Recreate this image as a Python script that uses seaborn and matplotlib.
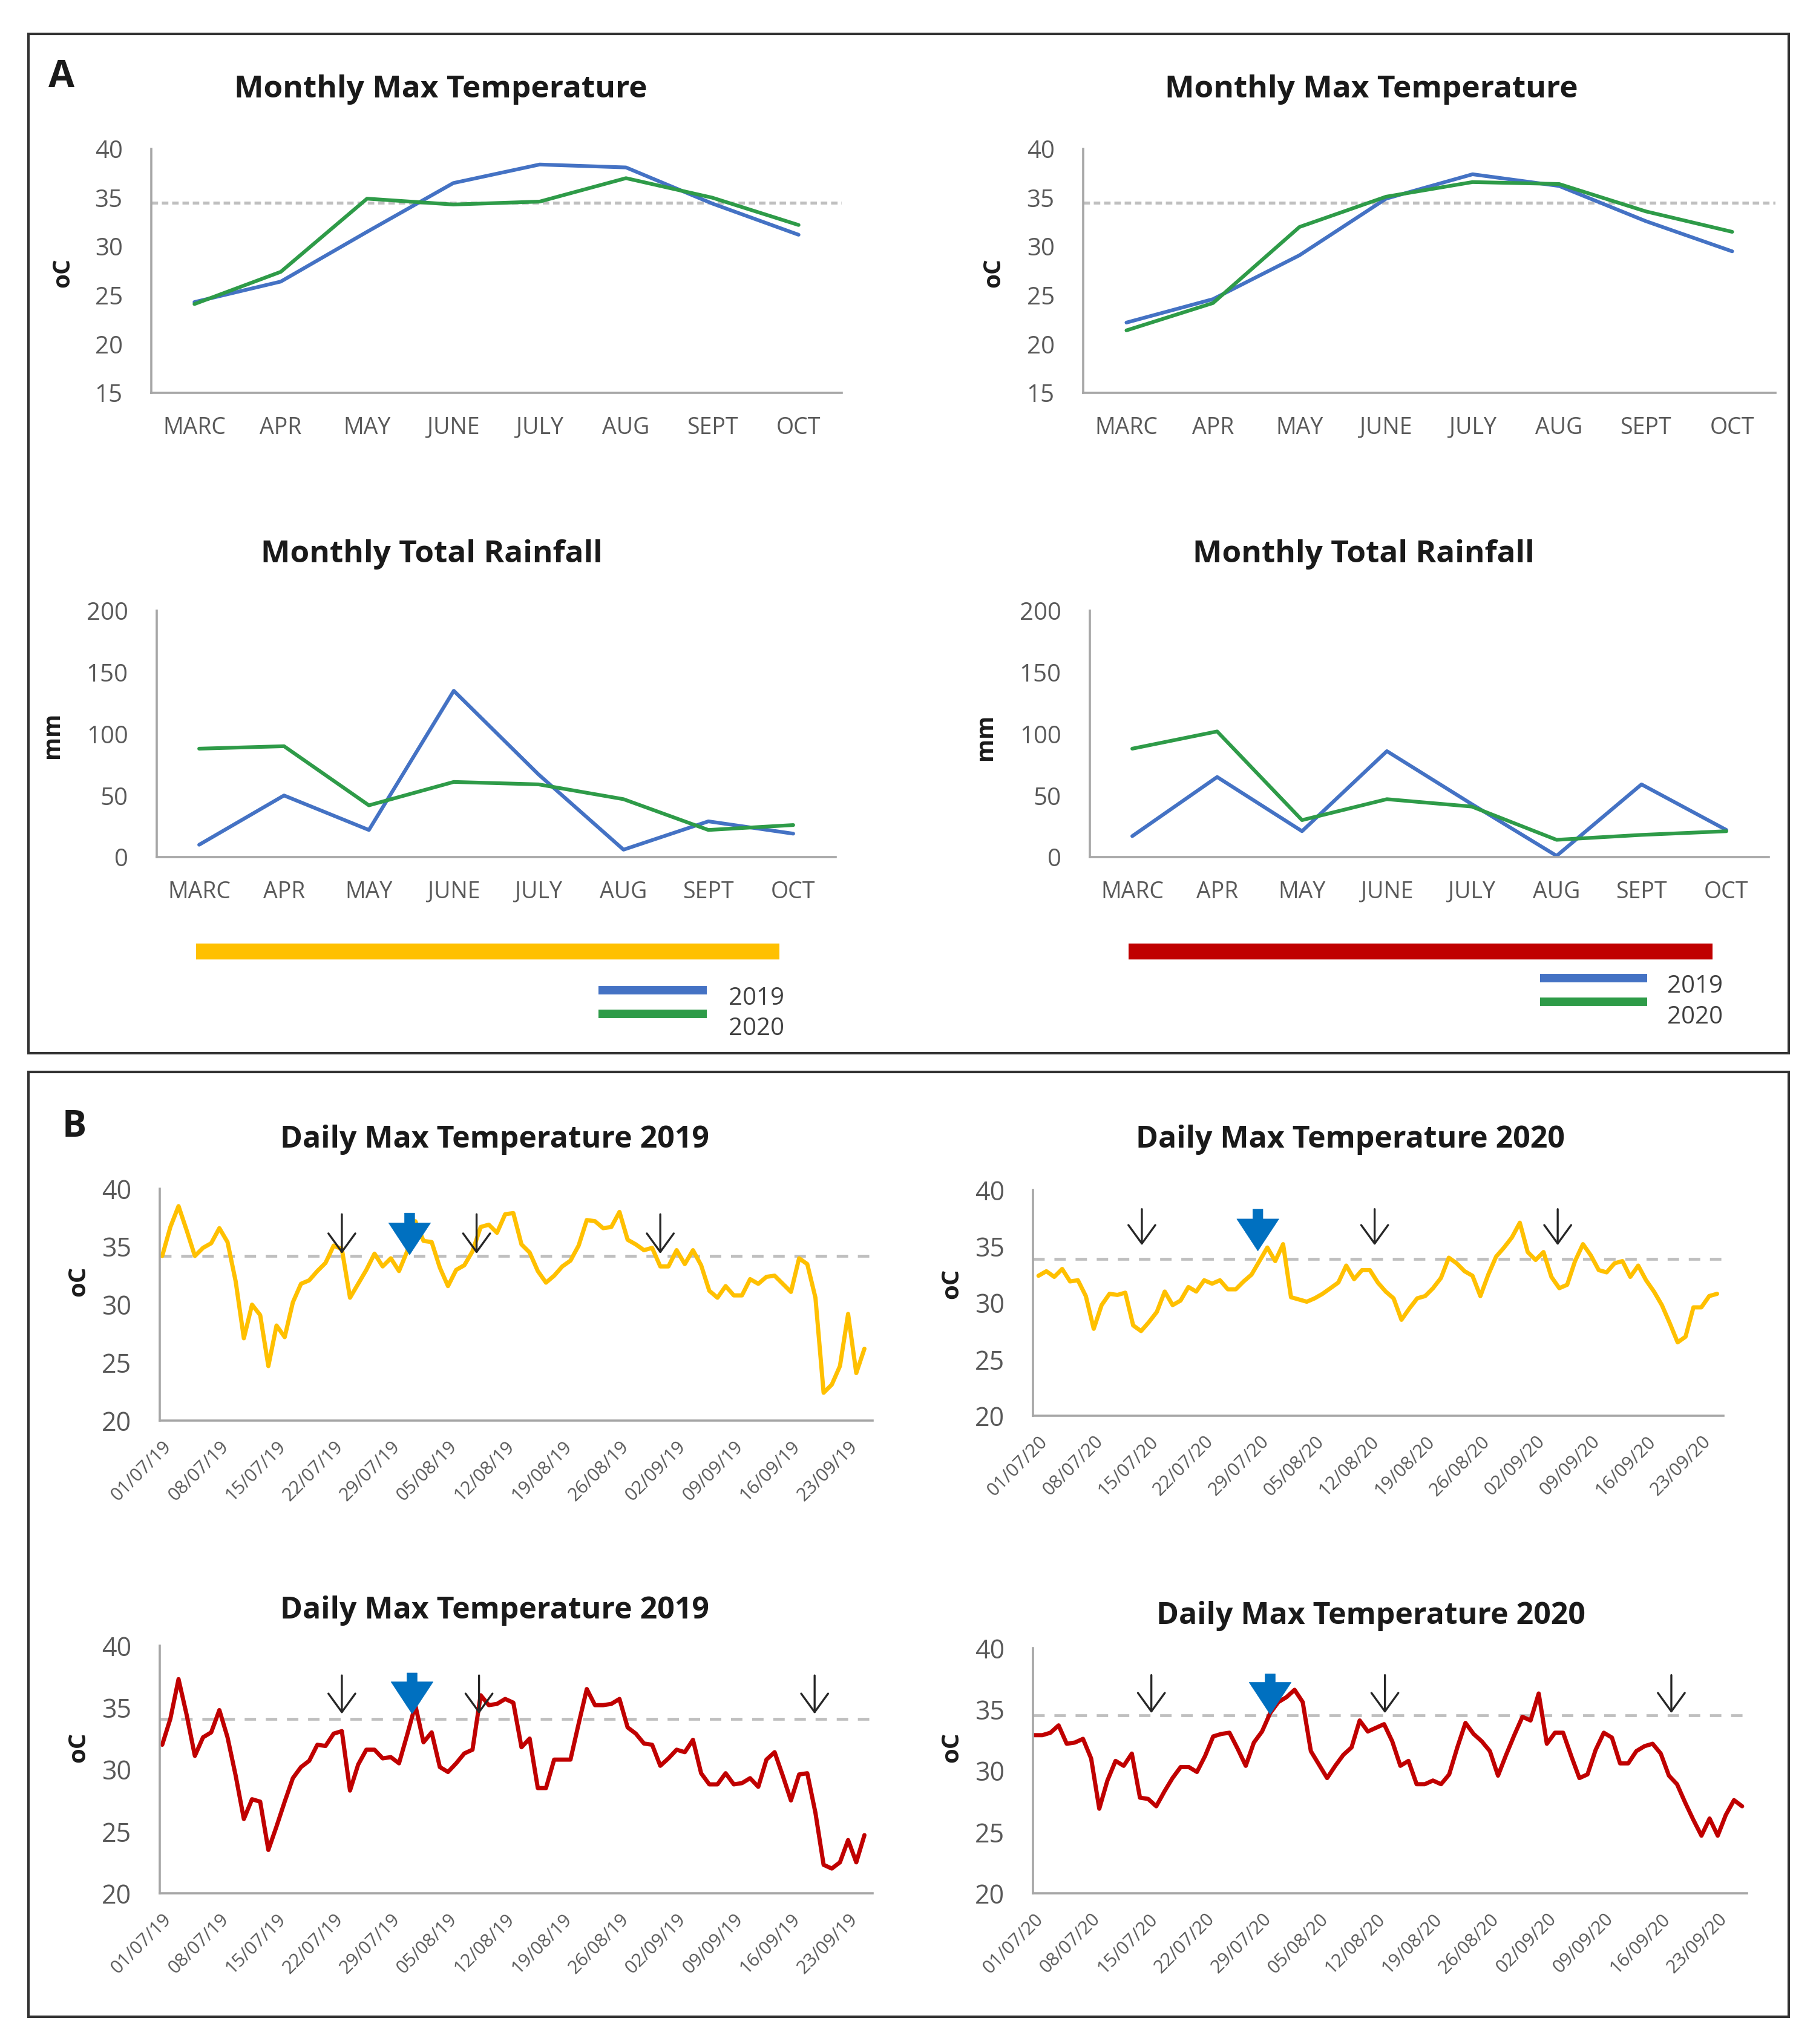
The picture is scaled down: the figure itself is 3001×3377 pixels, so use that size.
import numpy as np
import pandas as pd
import matplotlib
matplotlib.use("Agg")
import matplotlib.pyplot as plt
import matplotlib.dates as mdates
from matplotlib.lines import Line2D
from matplotlib.patches import Rectangle
import seaborn as sns

sns.set_theme(style="white")
plt.rcParams['font.family'] = ['Open Sans', 'DejaVu Sans']

# ---------------- data ----------------
months = ["MARC", "APR", "MAY", "JUNE", "JULY", "AUG", "SEPT", "OCT"]
years = ["2019", "2020"]

temp_left_2019 = [24.3, 26.4, 31.5, 36.5, 38.4, 38.1, 34.4, 31.2]
temp_left_2020 = [24.1, 27.4, 34.9, 34.3, 34.6, 37.0, 35.0, 32.2]
temp_right_2019 = [22.2, 24.6, 29.1, 34.9, 37.4, 36.2, 32.6, 29.5]
temp_right_2020 = [21.4, 24.2, 32.0, 35.1, 36.6, 36.4, 33.6, 31.5]

rain_left_2019 = [10, 50, 22, 135, 67, 6, 29, 19]
rain_left_2020 = [88, 90, 42, 61, 59, 47, 22, 26]
rain_right_2019 = [17, 65, 21, 86, 43, 1, 59, 22]
rain_right_2020 = [88, 102, 30, 47, 41, 14, 18, 21]

monthly_threshold_left = 34.5
monthly_threshold_right = 34.5

daily_yellow_2019 = [
    34.2, 36.7, 38.5, 36.4, 34.2, 34.9, 35.3, 36.6, 35.4, 32.0,
    27.1, 30.0, 29.1, 24.7, 28.2, 27.2, 30.2, 31.8, 32.1, 32.9,
    33.6, 35.1, 34.8, 30.6, 31.8, 33.0, 34.4, 33.3, 34.0, 32.9,
    34.6, 37.2, 35.5, 35.4, 33.2, 31.6, 33.0, 33.4, 34.6, 36.7,
    36.9, 36.2, 37.8, 37.9, 35.2, 34.5, 32.9, 31.9, 32.5, 33.3,
    33.8, 35.1, 37.3, 37.2, 36.6, 36.7, 38.0, 35.6, 35.2, 34.7,
    34.9, 33.3, 33.3, 34.7, 33.5, 34.7, 33.4, 31.2, 30.6, 31.6,
    30.8, 30.8, 32.2, 31.8, 32.4, 32.5, 31.8, 31.1, 34.0, 33.5,
    30.6, 22.4, 23.1, 24.7, 29.2, 24.1, 26.2]

daily_yellow_2020 = [
    32.4, 32.8, 32.3, 33.0, 31.9, 32.0, 30.6, 27.7, 29.8, 30.8,
    30.7, 30.9, 28.0, 27.5, 28.3, 29.2, 31.0, 29.8, 30.2, 31.4,
    31.0, 32.0, 31.7, 32.0, 31.2, 31.2, 31.9, 32.5, 33.7, 34.9,
    33.7, 35.2, 30.5, 30.3, 30.1, 30.4, 30.8, 31.3, 31.8, 33.3,
    32.1, 32.9, 32.9, 31.8, 31.0, 30.4, 28.5, 29.5, 30.4, 30.6,
    31.3, 32.2, 34.0, 33.5, 32.8, 32.4, 30.6, 32.5, 34.1, 34.9,
    35.8, 37.1, 34.5, 33.8, 34.5, 32.3, 31.3, 31.6, 33.7, 35.2,
    34.2, 32.9, 32.7, 33.5, 33.7, 32.3, 33.3, 32.0, 31.0, 29.8,
    28.2, 26.5, 27.0, 29.6, 29.6, 30.6, 30.8]

daily_red_2019 = [
    32.0, 34.1, 37.3, 34.4, 31.1, 32.6, 33.0, 34.8, 32.6, 29.5,
    26.0, 27.6, 27.4, 23.5, 25.4, 27.4, 29.3, 30.2, 30.7, 32.0,
    31.9, 32.9, 33.1, 28.3, 30.4, 31.6, 31.6, 30.9, 31.0, 30.5,
    32.8, 35.2, 32.2, 33.0, 30.2, 29.8, 30.5, 31.3, 31.6, 36.0,
    35.2, 35.3, 35.7, 35.4, 31.8, 32.5, 28.5, 28.5, 30.8, 30.8,
    30.8, 33.7, 36.5, 35.2, 35.2, 35.3, 35.7, 33.4, 32.9, 32.1,
    32.0, 30.3, 30.9, 31.6, 31.4, 32.4, 29.7, 28.8, 28.8, 29.7,
    28.8, 28.9, 29.3, 28.6, 30.8, 31.4, 29.5, 27.5, 29.6, 29.7,
    26.5, 22.3, 22.0, 22.5, 24.3, 22.5, 24.7]

daily_red_2020 = [
    32.9, 32.9, 33.1, 33.7, 32.2, 32.3, 32.6, 31.0, 26.9, 29.2,
    30.8, 30.4, 31.4, 27.8, 27.7, 27.1, 28.3, 29.4, 30.3, 30.3,
    29.9, 31.2, 32.8, 33.0, 33.1, 31.8, 30.4, 32.3, 33.2, 34.7,
    35.6, 36.0, 36.6, 35.6, 31.6, 30.5, 29.4, 30.4, 31.3, 31.9,
    34.1, 33.2, 33.5, 33.8, 32.4, 30.4, 30.8, 28.9, 28.9, 29.2,
    28.9, 29.7, 31.9, 33.9, 33.0, 32.4, 31.6, 29.6, 31.3, 32.9,
    34.4, 34.1, 36.3, 32.2, 33.1, 33.1, 31.2, 29.4, 29.7, 31.7,
    33.1, 32.7, 30.6, 30.6, 31.6, 32.0, 32.2, 31.4, 29.6, 28.9,
    27.4, 26.0, 24.7, 26.1, 24.7, 26.4, 27.6, 27.1]

# thresholds and arrow positions (days after 1 July)
thr_yellow_2019, thr_yellow_2020 = 34.2, 33.9
thr_red_2019, thr_red_2020 = 34.1, 34.5
black_arrows_yellow_2019, blue_arrow_yellow_2019 = [22.0, 38.5, 61.0], 30.3
black_arrows_yellow_2020, blue_arrow_yellow_2020 = [13.1, 42.6, 65.8], 27.8
black_arrows_red_2019, blue_arrow_red_2019 = [22.0, 38.8, 79.9], 30.6
black_arrows_red_2020, blue_arrow_red_2020 = [14.4, 43.1, 78.3], 29.0

# ---------------- styles ----------------
BLUE = "#4472C4"
GREEN = "#2E9B48"
YELLOW = "#FFC000"
RED = "#C00000"
ARROW_BLUE = "#0070C0"
GRID = "#A6A6A6"
TICK = "#595959"

W, H = 3001, 3377
fig = plt.figure(figsize=(W / 100, H / 100), dpi=100)


def frac_rect(x0, x1, y0, y1):
    return [x0 / W, 1 - y1 / H, (x1 - x0) / W, (y1 - y0) / H]


def fx(x):
    return x / W


def fy(y):
    return 1 - y / H


def style_axes(ax, xpad, ypad, xsize, ysize):
    for s in ["top", "right"]:
        ax.spines[s].set_visible(False)
    for s in ["left", "bottom"]:
        ax.spines[s].set_color(GRID)
        ax.spines[s].set_linewidth(2.6)
    ax.tick_params(axis="both", length=0, labelcolor=TICK)
    ax.tick_params(axis="x", pad=xpad, labelsize=xsize)
    ax.tick_params(axis="y", pad=ypad, labelsize=ysize)
    ax.set_xlabel("")
    ax.set_ylabel("")
    ax.grid(False)


def monthly(rect, v19, v20, ylim, yticks, thresh):
    ax = fig.add_axes(frac_rect(*rect))
    df = pd.DataFrame({"month": months * 2,
                       "value": list(v19) + list(v20),
                       "year": [years[0]] * 8 + [years[1]] * 8})
    sns.lineplot(data=df, x="month", y="value", hue="year",
                 palette={years[0]: BLUE, years[1]: GREEN},
                 linewidth=4.4, legend=False, sort=False, ax=ax)
    if thresh is not None:
        ax.axhline(thresh, color="#BFBFBF", lw=3.5, dashes=(2.2, 1.3), zorder=0.5)
    ax.set_xlim(-0.5, 7.5)
    ax.set_ylim(*ylim)
    ax.set_yticks(yticks)
    style_axes(ax, 28, 34, 27, 29)
    return ax


def daily(rect, vals, start, color, thresh, xlim_days, blacks, blue,
          btop, btip, utop, utip):
    ax = fig.add_axes(frac_rect(*rect))
    dates = pd.date_range(start, periods=len(vals), freq="D")
    df = pd.DataFrame({"date": dates, "tmax": vals})
    sns.lineplot(data=df, x="date", y="tmax", color=color, linewidth=5.0, ax=ax)
    ax.axhline(thresh, color="#BFBFBF", lw=3.4, dashes=(4.0, 3.4), zorder=0.5)
    d0 = pd.Timestamp(start)
    ax.set_xlim(mdates.date2num(d0 + pd.Timedelta(days=xlim_days[0])),
                mdates.date2num(d0 + pd.Timedelta(days=xlim_days[1])))
    ax.set_ylim(20, 40)
    ax.set_yticks([20, 25, 30, 35, 40])
    ticks = pd.date_range(start, periods=13, freq="7D")
    ax.set_xticks(mdates.date2num(ticks.to_pydatetime()))
    ax.xaxis.set_major_formatter(mdates.DateFormatter("%d/%m/%y"))
    style_axes(ax, 20, 34, 22, 31)
    for lab in ax.get_xticklabels():
        lab.set_rotation(45)
        lab.set_ha("right")
        lab.set_va("top")
        lab.set_rotation_mode("anchor")
    for d in blacks:
        x = mdates.date2num(d0 + pd.Timedelta(days=d))
        ax.annotate("", xy=(x, btip), xytext=(x, btop),
                    arrowprops=dict(arrowstyle="->,head_length=1.1,head_width=0.8",
                                    color="#262626", lw=2.4, mutation_scale=20,
                                    shrinkA=0, shrinkB=0), zorder=5)
    x = mdates.date2num(d0 + pd.Timedelta(days=blue))
    ax.annotate("", xy=(x, utip), xytext=(x, utop),
                arrowprops=dict(arrowstyle="simple,head_length=1.9,head_width=2.5,tail_width=0.6",
                                fc=ARROW_BLUE, ec=ARROW_BLUE, lw=0.5, mutation_scale=20,
                                shrinkA=0, shrinkB=0), zorder=6)
    return ax


# ---------------- panel A ----------------
monthly((250, 1391, 246, 649), temp_left_2019, temp_left_2020, (15, 40),
        [15, 20, 25, 30, 35, 40], monthly_threshold_left)
monthly((1790, 2934, 246, 649), temp_right_2019, temp_right_2020, (15, 40),
        [15, 20, 25, 30, 35, 40], monthly_threshold_right)
monthly((259, 1381, 1009, 1416), rain_left_2019, rain_left_2020, (0, 200),
        [0, 50, 100, 150, 200], None)
monthly((1801, 2923, 1009, 1416), rain_right_2019, rain_right_2020, (0, 200),
        [0, 50, 100, 150, 200], None)

TITLE_C = "#1A1A1A"
for (x, y, s) in [(728, 148, "Monthly Max Temperature"),
                  (2266, 148, "Monthly Max Temperature"),
                  (713, 916, "Monthly Total Rainfall"),
                  (2253, 916, "Monthly Total Rainfall")]:
    fig.text(fx(x), fy(y), s, ha="center", va="center", fontsize=37,
             fontweight="bold", color=TITLE_C)

for (x, y, s) in [(104, 451, "oC"), (1642, 451, "oC"),
                  (87, 1215, "mm"), (1629, 1218, "mm")]:
    fig.text(fx(x), fy(y), s, ha="center", va="center", rotation=90,
             fontsize=28, fontweight="bold", color="#1A1A1A")

# period bars
fig.add_artist(Line2D([fx(324), fx(1288)], [fy(1572), fy(1572)], color=YELLOW,
                      lw=19, solid_capstyle="butt"))
fig.add_artist(Line2D([fx(1865), fx(2830)], [fy(1572), fy(1572)], color=RED,
                      lw=19, solid_capstyle="butt"))

# legends
for (x0, x1, yb, yg, tx, ty1, ty2) in [(989, 1168, 1636, 1675, 1250, 1650, 1700),
                                       (2545, 2722, 1616, 1655, 2801, 1630, 1681)]:
    fig.add_artist(Line2D([fx(x0), fx(x1)], [fy(yb), fy(yb)], color=BLUE, lw=10,
                          solid_capstyle="butt"))
    fig.add_artist(Line2D([fx(x0), fx(x1)], [fy(yg), fy(yg)], color=GREEN, lw=10,
                          solid_capstyle="butt"))
    fig.text(fx(tx), fy(ty1), years[0], ha="center", va="center", fontsize=29,
             color="#404040")
    fig.text(fx(tx), fy(ty2), years[1], ha="center", va="center", fontsize=29,
             color="#404040")

# ---------------- panel B ----------------
daily((264, 1442, 1964, 2347), daily_yellow_2019, "2019-07-01", YELLOW,
      thr_yellow_2019, (-0.3, 87.0), black_arrows_yellow_2019,
      blue_arrow_yellow_2019, 37.8, 34.4, 37.9, 34.3)
daily((1707, 2848, 1966, 2339), daily_yellow_2020, "2020-07-01", YELLOW,
      thr_yellow_2020, (-0.7, 86.8), black_arrows_yellow_2020,
      blue_arrow_yellow_2020, 38.3, 35.1, 38.3, 34.6)
daily((264, 1442, 2719, 3128), daily_red_2019, "2019-07-01", RED,
      thr_red_2019, (-0.3, 87.0), black_arrows_red_2019,
      blue_arrow_red_2019, 37.6, 34.5, 37.8, 34.5)
daily((1707, 2887, 2723, 3128), daily_red_2020, "2020-07-01", RED,
      thr_red_2020, (-0.15, 87.6), black_arrows_red_2020,
      blue_arrow_red_2020, 37.8, 34.7, 37.9, 34.6)

for (x, y, s) in [(817, 1883, "Daily Max Temperature 2019"),
                  (2231, 1883, "Daily Max Temperature 2020"),
                  (817, 2661, "Daily Max Temperature 2019"),
                  (2265, 2670, "Daily Max Temperature 2020")]:
    fig.text(fx(x), fy(y), s, ha="center", va="center", fontsize=36,
             fontweight="bold", color=TITLE_C)

for (x, y) in [(130, 2117), (1573, 2121), (130, 2887), (1573, 2887)]:
    fig.text(fx(x), fy(y), "oC", ha="center", va="center", rotation=90,
             fontsize=29, fontweight="bold", color="#1A1A1A")

# panel letters
fig.text(fx(102), fy(128), "A", ha="center", va="center", fontsize=45,
         fontweight="bold", color="#1A1A1A")
fig.text(fx(123), fy(1862), "B", ha="center", va="center", fontsize=43,
         fontweight="bold", color="#1A1A1A")

# frames
for (x0, y0, x1, y1) in [(47, 56, 2956, 1740), (47, 1771, 2956, 3332)]:
    fig.add_artist(Rectangle((fx(x0), fy(y1)), (x1 - x0) / W, (y1 - y0) / H,
                             transform=fig.transFigure, fill=False,
                             ec="#333333", lw=3))

fig.savefig("out.png", dpi=100, facecolor="white")
